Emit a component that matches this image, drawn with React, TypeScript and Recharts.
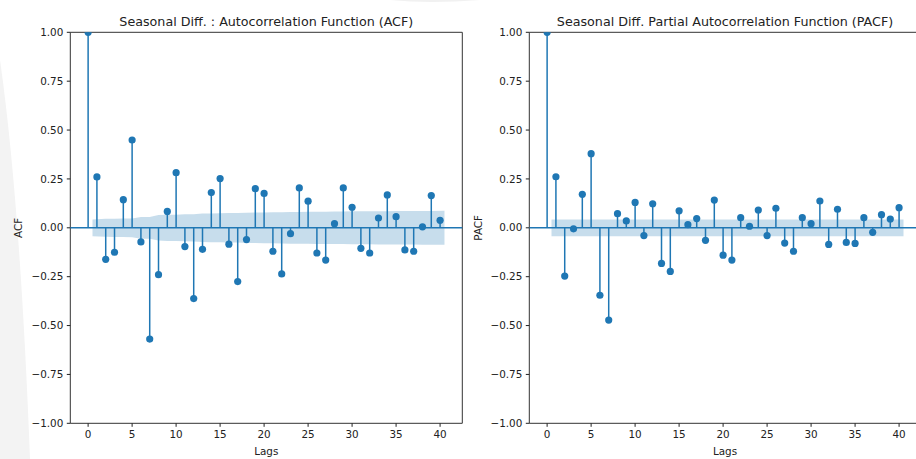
import React from 'react';
import {
  ComposedChart,
  XAxis,
  YAxis,
  Area,
  Scatter,
  ErrorBar,
  ReferenceLine,
  ReferenceArea,
} from 'recharts';

// Autocorrelation of the seasonally differenced series, lags 0..40
const ACF_VALUES = [
  1, 0.26, -0.161, -0.125, 0.144, 0.449, -0.072, -0.569, -0.24, 0.084, 0.282,
  -0.096, -0.362, -0.11, 0.18, 0.252, -0.084, -0.275, -0.06, 0.2, 0.176,
  -0.12, -0.236, -0.03, 0.204, 0.136, -0.129, -0.165, 0.021, 0.204, 0.105,
  -0.105, -0.129, 0.05, 0.168, 0.057, -0.113, -0.12, 0.005, 0.165, 0.038,
];

// Partial autocorrelation, lags 0..40
const PACF_VALUES = [
  1, 0.261, -0.247, -0.005, 0.171, 0.379, -0.345, -0.472, 0.072, 0.035, 0.13,
  -0.04, 0.123, -0.182, -0.223, 0.087, 0.016, 0.047, -0.064, 0.142, -0.14,
  -0.165, 0.052, 0.008, 0.091, -0.04, 0.1, -0.078, -0.12, 0.052, 0.021,
  0.137, -0.085, 0.095, -0.075, -0.08, 0.052, -0.023, 0.067, 0.045, 0.103,
];

// Half-width of the 95% confidence band for lags 1..40 (ACF, Bartlett)
const ACF_CONF = [
  0.043, 0.0458, 0.0468, 0.0474, 0.0482, 0.0554, 0.0556, 0.0655, 0.0671, 0.0673,
  0.0694, 0.0697, 0.073, 0.0733, 0.0741, 0.0757, 0.0758, 0.0776, 0.0777, 0.0787,
  0.0794, 0.0797, 0.081, 0.081, 0.0819, 0.0823, 0.0827, 0.0833, 0.0833, 0.0842,
  0.0844, 0.0846, 0.085, 0.0851, 0.0856, 0.0857, 0.086, 0.0863, 0.0863, 0.0868,
];

// Half-width of the PACF band, same for every lag 1..40
const PACF_CONF = [
  0.043, 0.043, 0.043, 0.043, 0.043, 0.043, 0.043, 0.043, 0.043, 0.043,
  0.043, 0.043, 0.043, 0.043, 0.043, 0.043, 0.043, 0.043, 0.043, 0.043,
  0.043, 0.043, 0.043, 0.043, 0.043, 0.043, 0.043, 0.043, 0.043, 0.043,
  0.043, 0.043, 0.043, 0.043, 0.043, 0.043, 0.043, 0.043, 0.043, 0.043,
];

const X_TICKS = [0, 5, 10, 15, 20, 25, 30, 35, 40];
const Y_TICKS = [-1, -0.75, -0.5, -0.25, 0, 0.25, 0.5, 0.75, 1];

const ACF_TITLE = 'Seasonal Diff. : Autocorrelation Function (ACF)';
const PACF_TITLE = 'Seasonal Diff. Partial Autocorrelation Function (PACF)';
const X_LABEL = 'Lags';

const BLUE = '#1f77b4';
const INK = '#222';
const FONT = '"DejaVu Sans", sans-serif';
const X_DOMAIN: [number, number] = [-2.025, 42.525];

const CHART_W = 470;
const CHART_H = 459;

const fmtY = (v: number) => v.toFixed(2).replace('-', '\u2212');

function Dot(props: any) {
  const { cx, cy } = props;
  if (cx == null || cy == null) return null;
  return <circle cx={cx} cy={cy} r={3.6} fill={BLUE} />;
}

function Panel({ values, conf }: { values: number[]; conf: number[] }) {
  const stems = values.map((v, lag) => ({
    lag,
    v,
    stem: v >= 0 ? [v, 0] : [0, -v],
  }));
  const last = conf.length - 1;
  const band = conf.map((w, i) => ({
    lag: i === 0 ? 0.5 : i === last ? i + 1.5 : i + 1,
    band: [-w, w],
  }));
  const tickStyle = { fontSize: 10.4, fill: INK, fontFamily: FONT };

  return (
    <ComposedChart
      width={CHART_W}
      height={CHART_H}
      data={band}
      margin={{ top: 32.3, right: 7.7, bottom: 0, left: 0 }}
    >
      <XAxis
        dataKey="lag"
        type="number"
        domain={X_DOMAIN}
        ticks={X_TICKS}
        allowDataOverflow
        height={35.7}
        axisLine={false}
        tickLine={{ stroke: INK }}
        tickSize={3.5}
        tickMargin={3.5}
        tick={tickStyle}
        interval={0}
      />
      <YAxis
        type="number"
        domain={[-1, 1]}
        ticks={Y_TICKS}
        allowDataOverflow
        width={70.3}
        axisLine={false}
        tickLine={{ stroke: INK }}
        tickSize={3.5}
        tickMargin={3.5}
        tick={tickStyle}
        tickFormatter={fmtY}
        interval={0}
      />
      <Area
        dataKey="band"
        type="linear"
        stroke="none"
        fill={BLUE}
        fillOpacity={0.25}
        isAnimationActive={false}
        dot={false}
        activeDot={false}
      />
      <ReferenceLine y={0} stroke={BLUE} strokeWidth={1.5} />
      <Scatter
        data={stems}
        dataKey="v"
        shape={<Dot />}
        isAnimationActive={false}
      >
        <ErrorBar
          dataKey="stem"
          direction="y"
          width={0}
          stroke={BLUE}
          strokeWidth={1.5}
          isAnimationActive={false}
        />
      </Scatter>
      <ReferenceArea
        x1={X_DOMAIN[0]}
        x2={X_DOMAIN[1]}
        y1={-1}
        y2={1}
        fill="none"
        stroke="#333"
        strokeWidth={1}
        ifOverflow="visible"
      />
    </ComposedChart>
  );
}

export default function App() {
  const leftCx = 70.3 + 392 / 2;
  const rightOffset = 458.7;
  const rightCx = rightOffset + 70.3 + 392 / 2;
  const midY = 32.3 + 391 / 2;
  return (
    <div
      style={{
        position: 'fixed',
        left: 0,
        top: 0,
        width: 916,
        height: 459,
        overflow: 'hidden',
        background: '#fff',
        fontFamily: FONT,
      }}
    >
      {/* faint page backdrop shading behind the figure */}
      <svg
        width={916}
        height={459}
        style={{ position: 'absolute', left: 0, top: 0 }}
      >
        <path d="M0,60 Q20,200 30,459 L0,459 Z" fill="#f3f3f3" />
        <path d="M390,0 Q430,4 480,0 Z" fill="#f1f1f1" />
      </svg>
      <div style={{ position: 'absolute', left: 0, top: 0 }}>
        <Panel values={ACF_VALUES} conf={ACF_CONF} />
      </div>
      <div style={{ position: 'absolute', left: rightOffset, top: 0 }}>
        <Panel values={PACF_VALUES} conf={PACF_CONF} />
      </div>
      <svg
        width={916}
        height={459}
        style={{ position: 'absolute', left: 0, top: 0, pointerEvents: 'none' }}
        fontFamily={FONT}
        fill={INK}
      >
        <text x={leftCx} y={26} textAnchor="middle" fontSize={12.7}>
          {ACF_TITLE}
        </text>
        <text x={rightCx} y={26} textAnchor="middle" fontSize={12.7}>
          {PACF_TITLE}
        </text>
        <text
          x={18}
          y={midY}
          textAnchor="middle"
          dominantBaseline="central"
          fontSize={10.4}
          transform={`rotate(-90 18 ${midY})`}
        >
          ACF
        </text>
        <text
          x={478}
          y={midY}
          textAnchor="middle"
          dominantBaseline="central"
          fontSize={10.4}
          transform={`rotate(-90 478 ${midY})`}
        >
          PACF
        </text>
        <text x={leftCx} y={455} textAnchor="middle" fontSize={10.4}>
          {X_LABEL}
        </text>
        <text x={rightCx} y={455} textAnchor="middle" fontSize={10.4}>
          {X_LABEL}
        </text>
      </svg>
    </div>
  );
}
